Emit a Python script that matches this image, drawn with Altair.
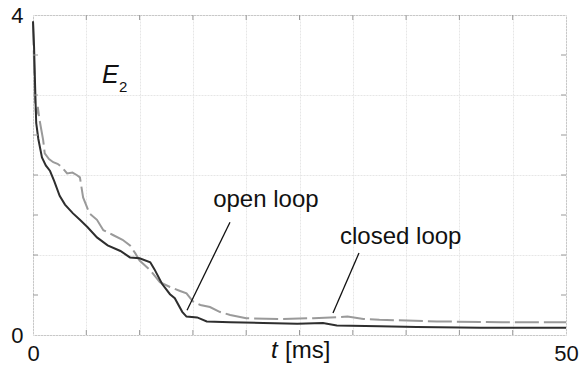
import altair as alt
import pandas as pd

# E2 decay, open loop vs closed loop
t_open = [0, 0.1, 0.2, 0.3, 0.5, 0.84, 1.2, 1.6, 2.0, 2.5, 3.0, 3.75, 4.4, 5.1, 6.0,
          7.0, 8.2, 9.1, 10.0, 11.0, 11.4, 12.1, 12.85, 13.3, 14.0, 14.4, 15.4, 16.3,
          18.5, 21.6, 24.8, 27.2, 28.5, 32.5, 36.0, 42.0, 50.0]
e_open = [3.92, 3.6, 3.1, 2.65, 2.45, 2.22, 2.12, 2.05, 1.92, 1.74, 1.63, 1.52, 1.44, 1.35, 1.22,
          1.12, 1.05, 0.97, 0.96, 0.91, 0.82, 0.64, 0.51, 0.46, 0.29, 0.23, 0.22, 0.17,
          0.16, 0.15, 0.14, 0.15, 0.12, 0.11, 0.10, 0.09, 0.09]

t_closed = [0, 0.1, 0.2, 0.3, 0.45, 0.6, 0.8, 0.95, 1.1, 1.5, 1.9, 2.3, 2.7, 3.2, 3.7, 4.1,
            4.4, 4.7, 5.3, 6.0, 6.6, 7.5, 8.4, 9.1, 9.6, 10.0, 11.0, 11.9, 12.85, 13.8,
            14.4, 15.0, 15.7, 16.6, 17.5, 18.5, 20.0, 23.2, 26.3, 29.5, 31.0, 32.5, 37.9,
            44.0, 50.0]
e_closed = [3.92, 3.4, 2.9, 2.75, 2.85, 2.7, 2.55, 2.44, 2.27, 2.2, 2.16, 2.14, 2.1, 2.02, 2.03, 2.0,
            1.97, 1.72, 1.52, 1.44, 1.31, 1.25, 1.19, 1.12, 1.02, 0.93, 0.81, 0.66, 0.6, 0.55,
            0.52, 0.42, 0.375, 0.35, 0.29, 0.25, 0.21, 0.2, 0.21, 0.23, 0.2, 0.19, 0.17,
            0.16, 0.16]

# grid / tick positions
t_ticks = [0, 5, 10, 15, 20, 25, 30, 35, 40, 45, 50]
e_ticks = [0, 0.5, 1.0, 1.5, 2.0, 2.5, 3.0, 3.5, 4.0]

# annotation labels and their leader lines
labels = ["open loop", "closed loop"]
label_t = [16.9, 28.8]
label_e = [1.6, 1.1375]
leader_t1 = [14.45, 28.14]
leader_e1 = [0.31, 0.275]
leader_t2 = [18.48, 30.58]
leader_e2 = [1.41, 1.025]

W, H = 533, 320
FONT = "Liberation Sans"

open_df = pd.DataFrame({"t": t_open, "E": e_open})
closed_df = pd.DataFrame({"t": t_closed, "E": e_closed})
ann_df = pd.DataFrame({"label": labels, "t": label_t, "E": label_e})
lead_df = pd.DataFrame({"t1": leader_t1, "e1": leader_e1, "t2": leader_t2, "e2": leader_e2})
tt_df = pd.DataFrame({"t": t_ticks[1:-1]})
et_df = pd.DataFrame({"E": e_ticks[1:-1]})
one = pd.DataFrame({"k": [0]})

x_scale = alt.Scale(domain=[0, 50], nice=False, zero=False)
y_scale = alt.Scale(domain=[0, 4], nice=False, zero=False)

x_axis = alt.Axis(values=t_ticks, title=None, grid=True, ticks=False, domain=False,
                  format="d",
                  labelExpr="datum.value == 0 || datum.value == 50 ? datum.label : ''",
                  labelFont=FONT, labelFontSize=22, labelColor="#111111",
                  labelPadding=8, labelFlush=False,
                  gridColor="#e6e6e6", gridDash=[2, 1], gridWidth=1)
y_axis = alt.Axis(values=e_ticks, title=None, grid=True, ticks=False, domain=False,
                  format="d",
                  labelExpr="datum.value == 0 || datum.value == 4 ? datum.label : ''",
                  labelFont=FONT, labelFontSize=22, labelColor="#111111",
                  labelPadding=10, labelFlush=False, labelBaseline="middle",
                  gridColor="#e6e6e6", gridDash=[2, 1], gridWidth=1)

X = alt.X("t:Q", scale=x_scale, axis=x_axis)
Y = alt.Y("E:Q", scale=y_scale, axis=y_axis)

closed_line = alt.Chart(closed_df).mark_line(
    color="#9a9a9a", strokeWidth=2, strokeDash=[24, 5]
).encode(x=X, y=Y, order="t:Q")

open_line = alt.Chart(open_df).mark_line(
    color="#2e2e2e", strokeWidth=2
).encode(x=X, y=Y, order="t:Q")

# inward tick marks on all four sides
tick_col = "#999999"
ticks_bottom = alt.Chart(tt_df).mark_rule(color=tick_col, strokeWidth=1).encode(
    x=X, y=alt.value(H), y2=alt.value(H - 5))
ticks_top = alt.Chart(tt_df).mark_rule(color=tick_col, strokeWidth=1).encode(
    x=X, y=alt.value(0), y2=alt.value(5))
ticks_left = alt.Chart(et_df).mark_rule(color=tick_col, strokeWidth=1).encode(
    y=Y, x=alt.value(0), x2=alt.value(5))
ticks_right = alt.Chart(et_df).mark_rule(color=tick_col, strokeWidth=1).encode(
    y=Y, x=alt.value(W), x2=alt.value(W - 5))

leaders = alt.Chart(lead_df).mark_rule(color="#111111", strokeWidth=1.3).encode(
    x=alt.X("t1:Q", scale=x_scale, axis=x_axis),
    y=alt.Y("e1:Q", scale=y_scale, axis=y_axis),
    x2="t2:Q", y2="e2:Q")

ann_text = alt.Chart(ann_df).mark_text(
    align="left", baseline="alphabetic", font=FONT, fontSize=24, color="#111111"
).encode(x=X, y=Y, text="label:N")

e_label = alt.Chart(one).mark_text(
    text="E", align="left", baseline="alphabetic", font=FONT, fontSize=25,
    fontStyle="italic", color="#111111"
).encode(x=alt.value(69), y=alt.value(68))
e_sub = alt.Chart(one).mark_text(
    text="2", align="left", baseline="alphabetic", font=FONT, fontSize=15,
    color="#111111"
).encode(x=alt.value(86), y=alt.value(77))

t_label = alt.Chart(one).mark_text(
    text="t", align="left", baseline="alphabetic", font=FONT, fontSize=24,
    fontStyle="italic", color="#111111"
).encode(x=alt.value(238), y=alt.value(343))
ms_label = alt.Chart(one).mark_text(
    text="[ms]", align="left", baseline="alphabetic", font=FONT, fontSize=24,
    color="#111111"
).encode(x=alt.value(252), y=alt.value(343))

chart = alt.layer(
    closed_line, open_line, ticks_bottom, ticks_top, ticks_left, ticks_right,
    leaders, ann_text, e_label, e_sub, t_label, ms_label
).properties(
    width=W, height=H,
    padding={"left": 33, "top": 15, "right": 16, "bottom": 36},
    autosize=alt.AutoSizeParams(type="none"),
    background="white",
).configure_view(stroke="#aaaaaa", strokeWidth=1)

chart.save("out.html", embed_options={"renderer": "svg", "actions": False})
